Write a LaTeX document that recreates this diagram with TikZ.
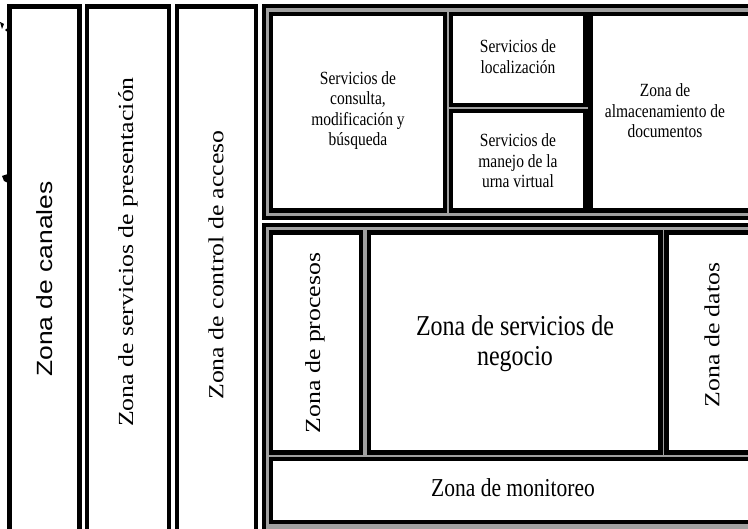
\documentclass[tikz,border=0pt]{standalone}
\usepackage{fontspec}
\setmainfont{Liberation Serif}
\newfontfamily\arialfont{Liberation Sans}
\usepackage{graphicx}
\usepackage{xcolor}
\usepackage{tikz}
\definecolor{framegray}{RGB}{160, 160, 160}
\tikzstyle{zone} = [draw=black, line width=4.5pt, fill=white]
\tikzstyle{group} = [draw=black, line width=4pt, fill=framegray]
\tikzstyle{smalltext} = [inner sep=0pt, font=\fontsize{15.5}{16.7}\selectfont]
\tikzstyle{bigtext} = [inner sep=0pt, font=\fontsize{21.5}{25}\selectfont]
\tikzstyle{sidetext} = [bigtext, rotate=90]
% text is a little taller than wide in the picture
\newcommand{\tallbox}[1]{\scalebox{1}[1.2]{\begin{tabular}{@{}c@{}}#1\end{tabular}}}
\newcommand{\longbox}[1]{\scalebox{1.2}[1]{#1}}

\begin{document}
\begin{tikzpicture}[x=1pt, y=-1pt]
    \useasboundingbox (0, 0) rectangle (748, 529);
    \clip (0, 0) rectangle (748, 529);

    % Left zones
    \draw[zone] (9.5, 6.5) rectangle (79.5, 560);
    \draw[zone] (87, 6.5) rectangle (169, 560);
    \draw[zone] (177, 6.5) rectangle (256, 560);
    \node[sidetext, font=\arialfont\fontsize{22}{25}\selectfont] (canales) at (45, 279) {\longbox{Zona de canales}};
    \node[sidetext] (presentacion) at (128, 252) {\longbox{Zona de servicios de presentación}};
    \node[sidetext] (acceso) at (216, 265) {\longbox{Zona de control de acceso}};

    % Upper group
    \draw[group] (264, 6) rectangle (800, 218.5);
    \draw[zone] (271, 14) rectangle (445, 210.5);
    \draw[zone] (451, 14) rectangle (585.5, 105);
    \draw[zone] (451, 111) rectangle (585.5, 210.5);
    \draw[zone] (590.5, 14) rectangle (800, 210.5);
    \node[smalltext] (consulta) at (358, 111) {\tallbox{Servicios de\\consulta,\\modificación y\\búsqueda}};
    \node[smalltext] (localizacion) at (518, 59) {\tallbox{Servicios de\\localización}};
    \node[smalltext] (urna) at (518, 163) {\tallbox{Servicios de\\manejo de la\\urna virtual}};
    \node[smalltext] (documentos) at (665, 113) {\tallbox{Zona de\\almacenamiento de\\documentos}};

    % Lower group
    \draw[group] (264, 225) rectangle (800, 560);
    \draw[zone] (271, 232.5) rectangle (361, 452.5);
    \draw[zone] (369, 232.5) rectangle (660.5, 452.5);
    \draw[zone] (666.5, 232.5) rectangle (800, 452.5);
    \draw[zone] (271, 459) rectangle (800, 522);
    \node[sidetext] (procesos) at (315, 343) {\longbox{Zona de procesos}};
    \node[bigtext, font=\fontsize{24}{25}\selectfont] (negocio) at (515, 345) {\tallbox{Zona de servicios de\\negocio}};
    \node[sidetext] (datos) at (712, 335) {\longbox{Zona de datos}};
    \node[bigtext] (monitoreo) at (513, 491) {\tallbox{Zona de monitoreo}};

    % cut-off marks at the left edge
    \fill (0, 22) -- (4, 24) -- (2, 29) -- cycle;
    \fill (6.5, 30) circle (1.3);
    \fill (2, 176) -- (8, 174) -- (8, 183) -- (4, 181) -- cycle;
\end{tikzpicture}
\end{document}
